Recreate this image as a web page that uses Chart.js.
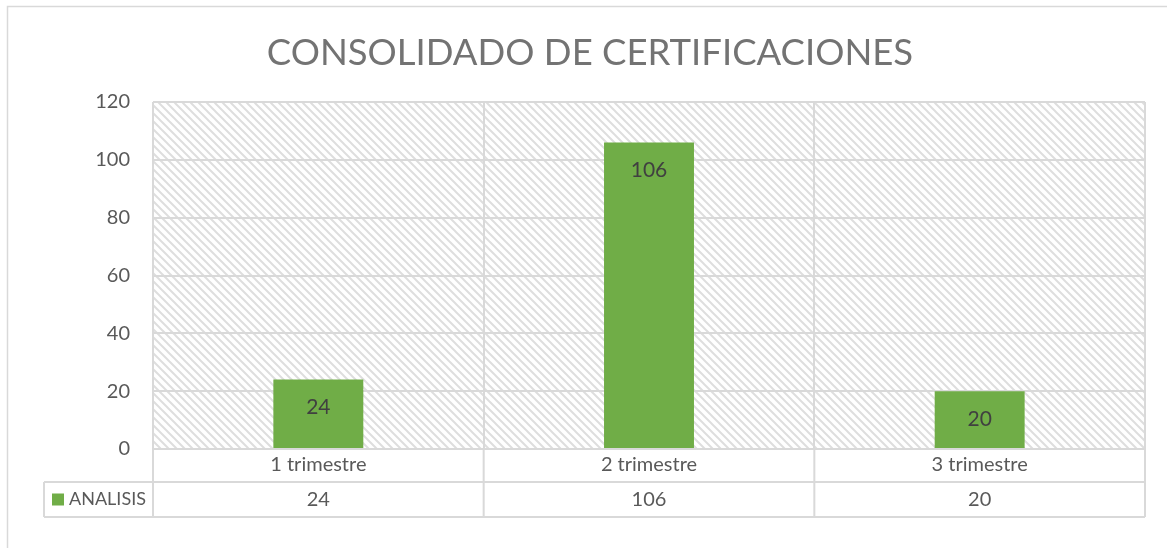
<!DOCTYPE html>
<html>
<head>
<meta charset="utf-8">
<script src="https://cdn.jsdelivr.net/npm/chart.js@4/dist/chart.umd.min.js"></script>
<style>
html,body{margin:0;padding:0;background:#fff;}
#wrap{width:1167px;height:548px;position:relative;}
</style>
</head>
<body>
<div id="wrap"><canvas id="c" width="1167" height="548"></canvas></div>
<script>
const chartTitle = 'CONSOLIDADO DE CERTIFICACIONES';
const categories = ['1 trimestre', '2 trimestre', '3 trimestre'];
const seriesName = 'ANALISIS';
const analisis = [24, 106, 20];
const yMin = 0, yMax = 120, yStep = 20;

const FONT = 'Lato, "Open Sans", sans-serif';
const GRID = '#D9D9D9';
const TEXT = '#595959';
const BAR = '#70AD47';

function makePattern(ctx) {
  const t = document.createElement('canvas');
  t.width = 8; t.height = 8;
  const p = t.getContext('2d');
  p.fillStyle = '#fff'; p.fillRect(0,0,8,8);
  p.strokeStyle = '#DEDEDE';
  p.lineWidth = 2;
  p.beginPath();
  p.moveTo(-2,-2); p.lineTo(10,10);
  p.moveTo(-10,-2); p.lineTo(2,10);
  p.moveTo(6,-2); p.lineTo(18,10);
  p.stroke();
  return ctx.createPattern(t, 'repeat');
}

const bgPlugin = {
  id: 'bg',
  beforeDraw(chart) {
    const {ctx, chartArea: a} = chart;
    ctx.save();
    ctx.fillStyle = '#fff';
    ctx.fillRect(0,0,chart.width,chart.height);
    ctx.strokeStyle = GRID; ctx.lineWidth = 1.5;
    ctx.strokeRect(7.5, 6.5, chart.width + 20, chart.height + 20);
    ctx.fillStyle = makePattern(ctx);
    ctx.fillRect(a.left, a.top, a.right - a.left, a.bottom - a.top);
    ctx.restore();
  }
};

const tablePlugin = {
  id: 'dataTable',
  afterDraw(chart) {
    const {ctx, chartArea: a} = chart;
    const xs = chart.scales.x;
    const row1 = a.bottom + 33, row2 = a.bottom + 68;
    const legLeft = 44;
    ctx.save();
    ctx.strokeStyle = GRID; ctx.lineWidth = 2;
    ctx.beginPath();
    ctx.moveTo(legLeft, row1); ctx.lineTo(a.right, row1);
    ctx.moveTo(legLeft, row2); ctx.lineTo(a.right, row2);
    ctx.moveTo(a.left, a.bottom); ctx.lineTo(a.right, a.bottom);
    ctx.moveTo(legLeft, row1); ctx.lineTo(legLeft, row2);
    const step = (a.right - a.left) / categories.length;
    for (let i = 0; i <= categories.length; i++) {
      const x = a.left + step * i;
      ctx.moveTo(x, a.bottom); ctx.lineTo(x, row2);
    }
    ctx.stroke();
    const mid = (row1 + row2) / 2;
    ctx.fillStyle = BAR;
    ctx.fillRect(52, mid - 6, 12, 12);
    ctx.fillStyle = TEXT;
    ctx.font = '18px ' + FONT;
    ctx.textBaseline = 'middle';
    ctx.textAlign = 'left';
    ctx.fillText(seriesName, 69, mid);
    ctx.textAlign = 'center';
    ctx.font = '20px ' + FONT;
    analisis.forEach((v, i) => {
      ctx.fillText(String(v), xs.getPixelForValue(i), mid);
    });
    ctx.restore();
  }
};

const labelPlugin = {
  id: 'barLabels',
  afterDatasetsDraw(chart) {
    const {ctx} = chart;
    const meta = chart.getDatasetMeta(0);
    ctx.save();
    ctx.fillStyle = '#404040';
    ctx.font = '21px ' + FONT;
    ctx.textAlign = 'center';
    ctx.textBaseline = 'middle';
    meta.data.forEach((bar, i) => {
      ctx.fillText(String(analisis[i]), bar.x, bar.y + 28);
    });
    ctx.restore();
  }
};

new Chart(document.getElementById('c'), {
  type: 'bar',
  data: {
    labels: categories,
    datasets: [{
      label: seriesName,
      data: analisis,
      backgroundColor: BAR,
      borderWidth: 0,
      barPercentage: 0.272,
      categoryPercentage: 1
    }]
  },
  options: {
    responsive: false,
    animation: false,
    layout: { padding: { left: 35, right: 22, top: 0, bottom: 0 } },
    plugins: {
      legend: { display: false },
      tooltip: { enabled: false },
      title: {
        display: true,
        text: chartTitle,
        color: '#737373',
        font: { family: FONT, size: 36.5, weight: 'normal', lineHeight: 1.2 },
        padding: { top: 31, bottom: 27.2 }
      }
    },
    scales: {
      x: {
        offset: true,
        grid: { display: true, offset: true, color: GRID, lineWidth: 2, drawTicks: false },
        border: { display: true, color: GRID, width: 2 },
        ticks: { color: TEXT, font: { family: FONT, size: 20 }, padding: 4 },
        afterFit(s) { s.height = 99; }
      },
      y: {
        min: yMin, max: yMax,
        ticks: { stepSize: yStep, color: TEXT, font: { family: FONT, size: 20 }, padding: 23 },
        grid: { color: GRID, lineWidth: 2, drawTicks: false },
        border: { display: false },
        afterFit(s) { s.width = 118; }
      }
    }
  },
  plugins: [bgPlugin, labelPlugin, tablePlugin]
});
</script>
</body>
</html>
